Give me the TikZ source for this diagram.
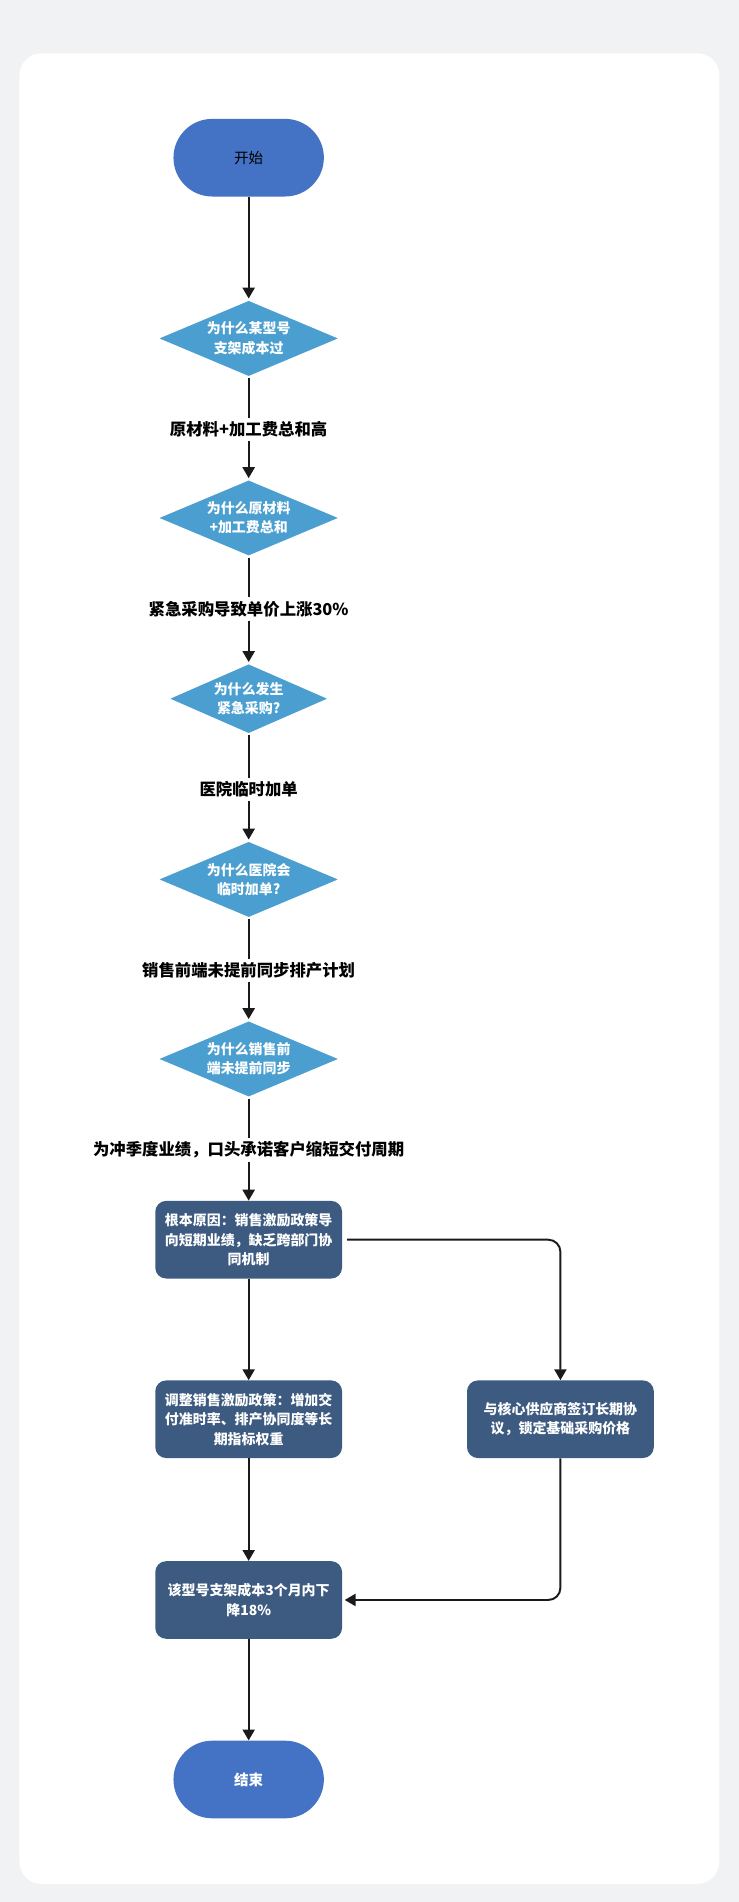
\documentclass[tikz,border=0pt]{standalone}
\usepackage{fontspec}
\setmainfont{Noto Sans CJK SC}
\usetikzlibrary{shapes.geometric, positioning, arrows.meta}
\definecolor{bgc}{HTML}{F1F2F4}
\definecolor{termc}{HTML}{4472C4}
\definecolor{askc}{HTML}{4A9FD0}
\definecolor{boxc}{HTML}{3D5A80}
\definecolor{linec}{HTML}{1A1A1A}
\tikzset{%
    termsty/.style={
        rounded corners=32pt,
        fill=termc,
        minimum height=64pt,
        minimum width=124pt,
        font=\fontsize{12}{14}\selectfont,
    },
    asksty/.style={
        diamond,
        aspect=2.2,
        fill=askc,
        draw=white,
        line width=1.5pt,
        inner sep=2pt,
        align=center,
        text=white,
        font=\fontsize{11.5}{16}\selectfont\bfseries,
    },
    ansty/.style={
        fill=white,
        inner sep=3pt,
        font=\fontsize{13.5}{16}\selectfont\bfseries,
    },
    boxsty/.style={
        rounded corners=9pt,
        fill=boxc,
        text=white,
        align=center,
        minimum height=64pt,
        minimum width=154pt,
        font=\fontsize{11.5}{16}\selectfont\bfseries,
    },
    arr/.style={
        draw=linec,
        line width=1.6pt,
        -{Triangle[length=9pt,width=10pt]},
    },
    ln/.style={
        draw=linec,
        line width=1.6pt,
    },
}
\begin{document}
\begin{tikzpicture}[x=1pt,y=-1pt]
\useasboundingbox (0,0) rectangle (609,1568);
\fill[bgc] (0,0) rectangle (609,1568);
\fill[white, rounded corners=18pt] (16,44) rectangle (593,1553);

% flow nodes
\node (start) [termsty] at (205,130) {开始};
\node (q1) [asksty,minimum width=152pt] at (205,279) {为什么某型号\\支架成本过};
\node (a1) [ansty] at (205,354) {原材料+加工费总和高};
\node (q2) [asksty,minimum width=152pt] at (205,427) {为什么原材料\\+加工费总和};
\node (a2) [ansty] at (205,502) {紧急采购导致单价上涨30\%};
\node (q3) [asksty,minimum width=134pt] at (205,576) {为什么发生\\紧急采购?};
\node (a3) [ansty] at (205,651) {医院临时加单};
\node (q4) [asksty,minimum width=152pt] at (205,725) {为什么医院会\\临时加单?};
\node (a4) [ansty] at (205,800) {销售前端未提前同步排产计划};
\node (q5) [asksty,minimum width=152pt] at (205,873) {为什么销售前\\端未提前同步};
\node (a5) [ansty] at (205,948) {为冲季度业绩，口头承诺客户缩短交付周期};
\node (root) [boxsty] at (205,1022) {根本原因：销售激励政策导\\向短期业绩，缺乏跨部门协\\同机制};
\node (fix1) [boxsty] at (205,1170) {调整销售激励政策：增加交\\付准时率、排产协同度等长\\期指标权重};
\node (fix2) [boxsty] at (462,1170) {与核心供应商签订长期协\\议，锁定基础采购价格};
\node (res) [boxsty] at (205,1319) {该型号支架成本3个月内下\\降18\%};
\node (stop) [termsty,text=white,font=\fontsize{12}{14}\selectfont\bfseries] at (205,1467) {结束};

% connectors
\draw [arr] (start) -- (q1);
\draw [ln] (q1) -- (a1);
\draw [arr] (a1) -- (q2);
\draw [ln] (q2) -- (a2);
\draw [arr] (a2) -- (q3);
\draw [ln] (q3) -- (a3);
\draw [arr] (a3) -- (q4);
\draw [ln] (q4) -- (a4);
\draw [arr] (a4) -- (q5);
\draw [ln] (q5) -- (a5);
\draw [arr] (a5) -- (root);
\draw [arr] (root) -- (fix1);
\draw [arr,rounded corners=10pt] ([xshift=4pt]root.east) -| (fix2.north);
\draw [arr] (fix1) -- (res);
\draw [arr,rounded corners=10pt] (fix2.south) |- ([xshift=2pt]res.east);
\draw [arr] (res) -- (stop);

\end{tikzpicture}
\end{document}
